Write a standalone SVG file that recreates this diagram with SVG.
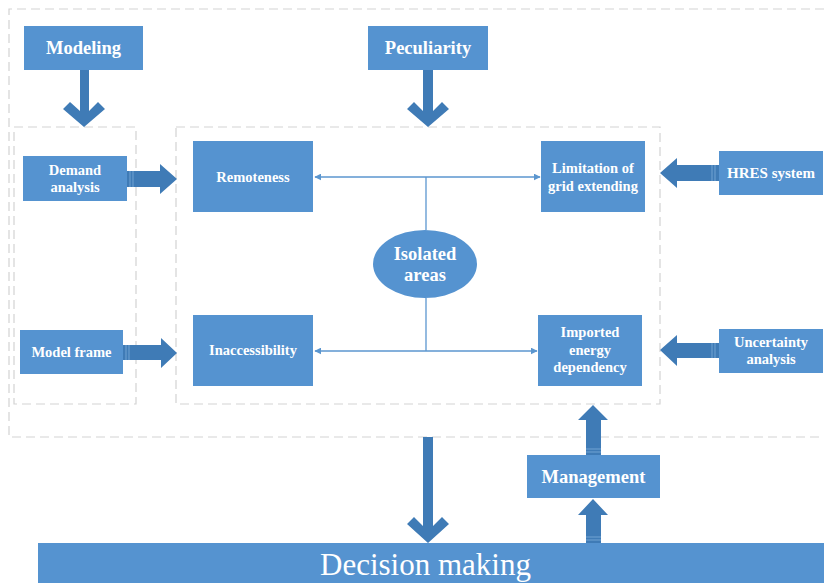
<svg xmlns="http://www.w3.org/2000/svg" width="824" height="583" viewBox="0 0 824 583">
<defs>
<style>
.box{fill:#5593D0;}
.arr{fill:#3F7BB6;}
.dash{fill:none;stroke:#D3D3D3;stroke-width:1.2;stroke-dasharray:9 5;}
.t{font-family:"Liberation Serif","Times New Roman",serif;font-weight:bold;fill:#FFFFFF;text-anchor:middle;}
.ln{stroke:#5B96CF;stroke-width:1.3;fill:none;}
.stripe{stroke:#7FAEDB;stroke-width:0.8;}
</style>
<marker id="ah" viewBox="0 0 10 10" refX="9" refY="5" markerWidth="7" markerHeight="7" markerUnits="userSpaceOnUse" orient="auto-start-reverse">
<path d="M0,0 L10,5 L0,10 z" fill="#5B96CF"/>
</marker>
</defs>
<rect width="824" height="583" fill="#FFFFFF"/>
<g id="frames">
<path class="dash" d="M824,9 H9 V437 H824"/>
<rect class="dash" x="14" y="127" width="122" height="277"/>
<rect class="dash" x="176" y="127" width="484" height="277"/>
</g>
<g id="connectors">
<polygon class="arr" points="80,70 89,70 89,111 98,102 105,109 84,127 63,109 70,102 80,111"/>
<polygon class="arr" points="423,70 433,70 433,111 442,102 449,109 428,127 407,109 414,102 423,111"/>
<polygon class="arr" points="127,171 160,171 160,164 177,179 160,194 160,187 127,187"/>
<line class="stripe" x1="130" y1="171" x2="130" y2="187"/><line class="stripe" x1="133" y1="171" x2="133" y2="187"/>
<polygon class="arr" points="123,345 161,345 161,338 177,353 161,368 161,360 123,360"/>
<line class="stripe" x1="126" y1="345" x2="126" y2="360"/><line class="stripe" x1="129" y1="345" x2="129" y2="360"/>
<polygon class="arr" points="719,165 677,165 677,158 660,173 677,188 677,181 719,181"/>
<line class="stripe" x1="715" y1="165" x2="715" y2="181"/><line class="stripe" x1="712" y1="165" x2="712" y2="181"/>
<polygon class="arr" points="719,343 677,343 677,335 660,350 677,366 677,358 719,358"/>
<line class="stripe" x1="715" y1="343" x2="715" y2="358"/><line class="stripe" x1="712" y1="343" x2="712" y2="358"/>
<polygon class="arr" points="423,437 433,437 433,526 442,517 449,524 428,543 407,524 414,517 423,526"/>
<polygon class="arr" points="586,543 601,543 601,515 608,515 593,499 578,515 586,515"/>
<line class="stripe" x1="586" y1="540" x2="601" y2="540"/><line class="stripe" x1="586" y1="537" x2="601" y2="537"/>
<polygon class="arr" points="586,455 601,455 601,420 608,420 593,405 578,420 586,420"/>
<line class="stripe" x1="586" y1="452" x2="601" y2="452"/><line class="stripe" x1="586" y1="449" x2="601" y2="449"/>
<line class="ln" x1="426" y1="177" x2="315" y2="177" marker-end="url(#ah)"/>
<line class="ln" x1="426" y1="177" x2="540" y2="177" marker-end="url(#ah)"/>
<line class="ln" x1="426" y1="177" x2="426" y2="230"/>
<line class="ln" x1="426" y1="298" x2="426" y2="351"/>
<line class="ln" x1="426" y1="351" x2="315" y2="351" marker-end="url(#ah)"/>
<line class="ln" x1="426" y1="351" x2="537" y2="351" marker-end="url(#ah)"/>
</g>
<g id="modeling"><rect class="box" x="24" y="26" width="119" height="44"/><text class="t" x="83.5" y="54" font-size="18.5">Modeling</text></g>
<g id="peculiarity"><rect class="box" x="368" y="26" width="120" height="44"/><text class="t" x="428" y="54" font-size="18.5">Peculiarity</text></g>
<g id="demand"><rect class="box" x="23" y="156" width="104" height="45"/><text class="t" x="75" y="175" font-size="14.5">Demand</text><text class="t" x="75" y="192" font-size="14.5">analysis</text></g>
<g id="modelframe"><rect class="box" x="20" y="330" width="103" height="44"/><text class="t" x="71.5" y="357" font-size="14.5">Model frame</text></g>
<g id="remoteness"><rect class="box" x="193" y="141" width="120" height="71"/><text class="t" x="253" y="182" font-size="14.5">Remoteness</text></g>
<g id="inaccessibility"><rect class="box" x="193" y="315" width="120" height="71"/><text class="t" x="253" y="355" font-size="14.5">Inaccessibility</text></g>
<g id="limitation"><rect class="box" x="541" y="141" width="104" height="71"/><text class="t" x="593" y="173" font-size="14.5">Limitation of</text><text class="t" x="593" y="191" font-size="14.5">grid extending</text></g>
<g id="imported"><rect class="box" x="538" y="315" width="104" height="71"/><text class="t" x="590" y="337" font-size="14.5">Imported</text><text class="t" x="590" y="354.5" font-size="14.5">energy</text><text class="t" x="590" y="372" font-size="14.5">dependency</text></g>
<g id="hres"><rect class="box" x="719" y="151" width="104" height="44"/><text class="t" x="771" y="178" font-size="15">HRES system</text></g>
<g id="uncertainty"><rect class="box" x="719" y="329" width="104" height="44"/><text class="t" x="771" y="347" font-size="14.5">Uncertainty</text><text class="t" x="771" y="364" font-size="14.5">analysis</text></g>
<g id="isolated"><ellipse class="box" cx="425" cy="264" rx="52" ry="34"/><text class="t" x="425" y="260" font-size="18.5">Isolated</text><text class="t" x="425" y="281" font-size="18.5">areas</text></g>
<g id="management"><rect class="box" x="527" y="455" width="133" height="43"/><text class="t" x="593.5" y="483" font-size="18.5">Management</text></g>
<g id="decision"><rect class="box" x="38" y="543" width="786" height="40"/><text x="320" y="575" font-family="'Liberation Serif','Times New Roman',serif" font-size="31" fill="#FFFFFF">Decision making</text></g>
</svg>
